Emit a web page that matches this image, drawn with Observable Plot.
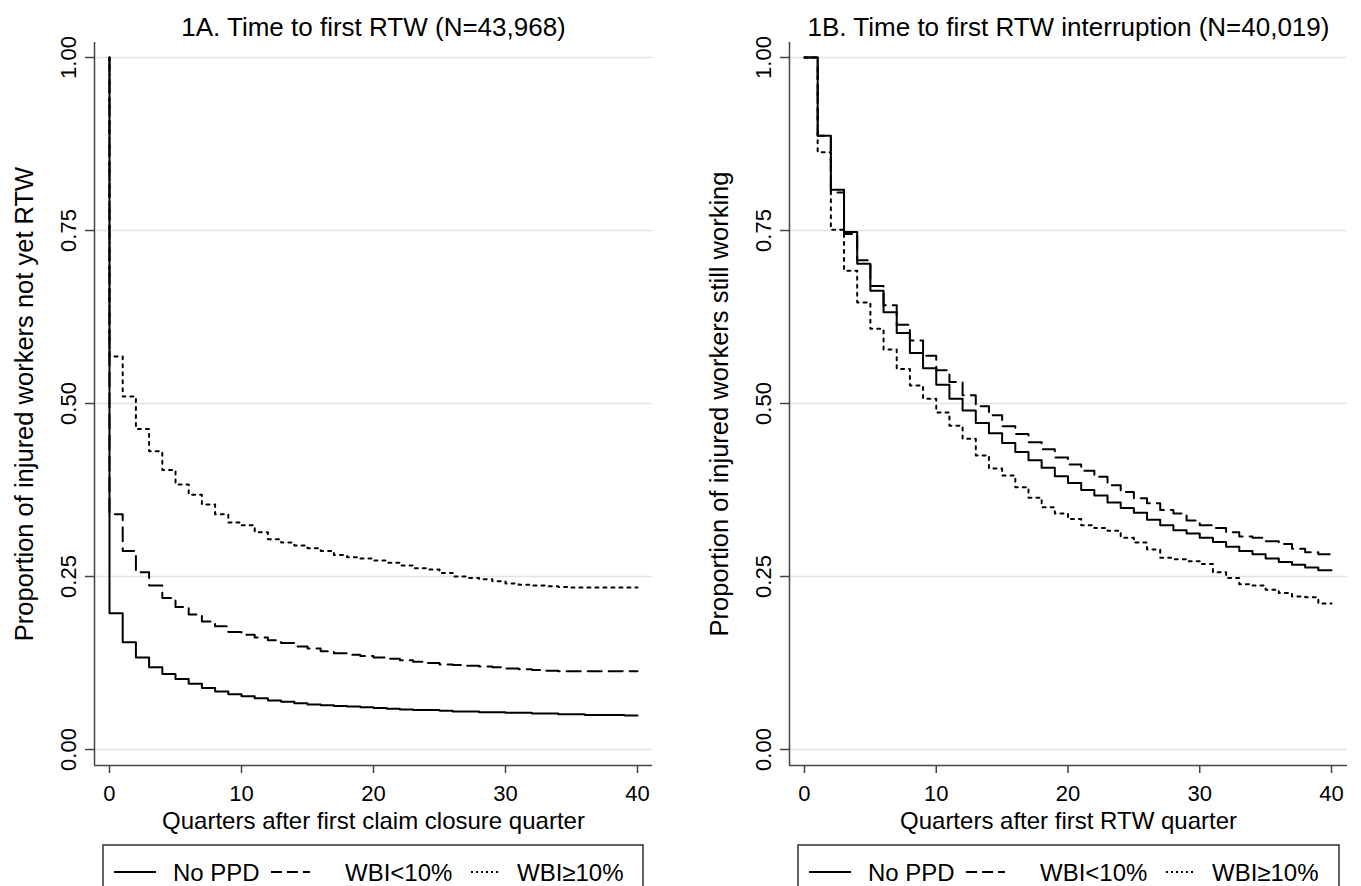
<!DOCTYPE html>
<html><head><meta charset="utf-8">
<script src="https://cdn.jsdelivr.net/npm/d3@7"></script>
<script src="https://cdn.jsdelivr.net/npm/@observablehq/plot@0.6"></script>
<style>
body{margin:0;background:#fff;font-family:"Liberation Sans",Arial,sans-serif;}
#page{position:relative;width:1361px;height:886px;overflow:hidden;background:#fff;}
.panel{position:absolute;top:0;height:886px;}
</style></head><body><div id="page"></div>
<script>
// ---- data ----
const quarters = [0,1,2,3,4,5,6,7,8,9,10,11,12,13,14,15,16,17,18,19,20,21,22,23,24,25,26,27,28,29,30,31,32,33,34,35,36,37,38,39,40];
const seriesNames = ["No PPD", "WBI<10%", "WBI≥10%"];
const xTicks = [0, 10, 20, 30, 40];
const yTicks = [0, 0.25, 0.5, 0.75, 1];

// Panel 1A: time to first RTW (value at start of quarter 0 is 1.00)
const startA = 1.0;
const noPPD_A = [0.197,0.155,0.133,0.119,0.109,0.102,0.095,0.089,0.084,0.080,0.077,0.074,0.071,0.069,0.067,0.065,0.064,0.063,0.062,0.061,0.060,0.059,0.058,0.057,0.057,0.056,0.055,0.055,0.054,0.054,0.053,0.053,0.052,0.052,0.051,0.051,0.050,0.050,0.050,0.049,0.049];
const wbiLow_A = [0.340,0.287,0.256,0.237,0.219,0.206,0.195,0.185,0.178,0.170,0.166,0.162,0.158,0.154,0.149,0.146,0.142,0.139,0.137,0.135,0.133,0.131,0.129,0.127,0.125,0.123,0.122,0.121,0.120,0.119,0.117,0.116,0.115,0.114,0.113,0.113,0.113,0.113,0.113,0.113,0.113];
const wbiHigh_A = [0.568,0.510,0.463,0.431,0.404,0.383,0.368,0.354,0.340,0.328,0.324,0.314,0.304,0.299,0.295,0.291,0.287,0.281,0.278,0.276,0.273,0.270,0.266,0.262,0.260,0.255,0.250,0.248,0.246,0.243,0.240,0.238,0.237,0.236,0.235,0.234,0.234,0.234,0.234,0.234,0.234];

// Panel 1B: time to first RTW interruption
const noPPD_B = [1.000,0.887,0.809,0.748,0.702,0.663,0.632,0.602,0.573,0.551,0.527,0.507,0.490,0.472,0.457,0.443,0.430,0.418,0.407,0.395,0.385,0.375,0.367,0.357,0.349,0.342,0.332,0.324,0.317,0.312,0.306,0.300,0.293,0.287,0.282,0.276,0.271,0.267,0.263,0.259,0.259];
const wbiLow_B = [1.000,0.887,0.805,0.745,0.707,0.670,0.642,0.614,0.591,0.569,0.548,0.531,0.512,0.496,0.483,0.467,0.456,0.444,0.434,0.422,0.412,0.403,0.394,0.382,0.372,0.363,0.356,0.346,0.341,0.331,0.324,0.320,0.314,0.308,0.306,0.301,0.297,0.290,0.285,0.282,0.279];
const wbiHigh_B = [1.000,0.863,0.751,0.692,0.646,0.608,0.578,0.550,0.526,0.507,0.487,0.468,0.449,0.425,0.406,0.396,0.379,0.364,0.350,0.341,0.333,0.324,0.320,0.316,0.306,0.299,0.289,0.277,0.275,0.272,0.268,0.256,0.248,0.239,0.237,0.231,0.226,0.221,0.220,0.211,0.211];

// ---- styling ----
const FONT = "'Liberation Sans', Arial, sans-serif";
const plotDash = [null, "14,7", "3,5"];
const legendDash = [null, "11,5", "2,3"];
const yDomain = [-0.0231, 1.0217];
const AXIS = "#444";

function rows(values, lead) {
  const r = quarters.map((q, i) => ({q, v: values[i]}));
  if (lead != null) r.unshift({q: quarters[0], v: lead});
  return r;
}

function panel({width, marginLeft, marginRight, xDomain, title, xLabel, yLabel, series, lead}) {
  const marks = [Plot.gridY(yTicks, {stroke: "#e3e3e3", strokeOpacity: 1, strokeWidth: 1.5})];
  [2, 1, 0].forEach(i => {
    const o = {x: "q", y: "v", curve: "step-after", stroke: "#000", strokeWidth: 2};
    if (plotDash[i]) o.strokeDasharray = plotDash[i];
    marks.push(Plot.line(rows(series[i], lead), o));
  });
  marks.push(
    Plot.ruleX([xDomain[0]], {stroke: AXIS, strokeWidth: 1.5}),
    Plot.ruleY([yDomain[0]], {stroke: AXIS, strokeWidth: 1.5}),
    Plot.axisX(xTicks, {tickSize: 8, tickPadding: 12, fontSize: 22, stroke: AXIS, strokeWidth: 1.5, label: null}),
    Plot.axisY(yTicks, {tickSize: 9, tickPadding: 10, tickRotate: -90, tickFormat: d3.format(".2f"), fontSize: 22, stroke: AXIS, strokeWidth: 1.5, label: null}),
    Plot.text([title], {frameAnchor: "top", dy: -7, lineAnchor: "bottom", textAnchor: "middle", fontSize: 26}),
    Plot.text([xLabel], {frameAnchor: "bottom", dy: 63, lineAnchor: "bottom", textAnchor: "middle", fontSize: 24}),
    Plot.text([yLabel], {frameAnchor: "left", dx: -70, rotate: -90, lineAnchor: "middle", textAnchor: "middle", fontSize: 25.5})
  );
  return Plot.plot({
    width, height: 840, marginLeft, marginRight, marginTop: 42, marginBottom: 75,
    x: {domain: xDomain}, y: {domain: yDomain},
    style: {fontFamily: FONT, fontSize: "22px", color: "#000", background: "#fff", overflow: "visible"},
    marks
  });
}

function legend(svgWidth, boxLeft, boxWidth) {
  const svg = d3.create("svg").attr("width", svgWidth).attr("height", 46)
    .style("position", "absolute").style("left", "0px").style("top", "840px");
  svg.append("rect").attr("x", boxLeft).attr("y", 5).attr("width", boxWidth).attr("height", 60)
    .attr("fill", "none").attr("stroke", "#333").attr("stroke-width", 1.5);
  const keyX = [[11, 53], [168, 207], [368, 398]];
  const textX = [70, 242, 414];
  seriesNames.forEach((name, i) => {
    const l = svg.append("line").attr("x1", boxLeft + keyX[i][0]).attr("x2", boxLeft + keyX[i][1])
      .attr("y1", 32).attr("y2", 32).attr("stroke", "#000").attr("stroke-width", 2);
    if (legendDash[i]) l.attr("stroke-dasharray", legendDash[i]);
    svg.append("text").attr("x", boxLeft + textX[i]).attr("y", 41).attr("font-family", FONT)
      .attr("font-size", 24).attr("fill", "#000").text(name);
  });
  return svg.node();
}

const page = document.getElementById("page");

const p1 = document.createElement("div"); p1.className = "panel"; p1.style.left = "0px"; p1.style.width = "680px";
p1.appendChild(panel({
  width: 680, marginLeft: 94, marginRight: 28, xDomain: [-1.136, 41.136],
  title: "1A. Time to first RTW (N=43,968)",
  xLabel: "Quarters after first claim closure quarter",
  yLabel: "Proportion of injured workers not yet RTW",
  series: [noPPD_A, wbiLow_A, wbiHigh_A], lead: startA
}));
p1.appendChild(legend(680, 103, 540));
page.appendChild(p1);

const p2 = document.createElement("div"); p2.className = "panel"; p2.style.left = "680px"; p2.style.width = "681px";
p2.appendChild(panel({
  width: 681, marginLeft: 109, marginRight: 14, xDomain: [-1.1385, 41.214],
  title: "1B. Time to first RTW interruption (N=40,019)",
  xLabel: "Quarters after first RTW quarter",
  yLabel: "Proportion of injured workers still working",
  series: [noPPD_B, wbiLow_B, wbiHigh_B], lead: null
}));
p2.appendChild(legend(681, 118, 541));
page.appendChild(p2);
</script></body></html>
